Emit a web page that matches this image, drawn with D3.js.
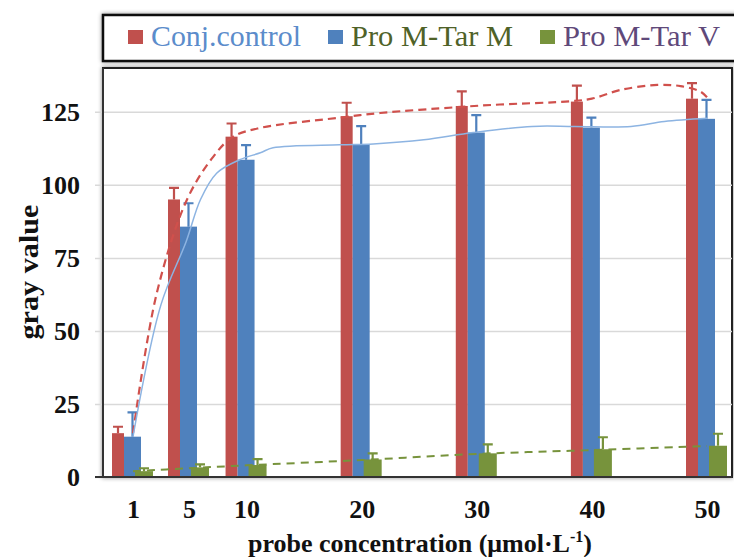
<!DOCTYPE html>
<html>
<head>
<meta charset="utf-8">
<script src="https://cdn.jsdelivr.net/npm/d3@7"></script>
<style>
    body { margin: 0; background: #fff; }
    svg { display: block; font-family: "Liberation Serif", "Times New Roman", serif; }
</style>
</head>
<body>
<svg id="chart" width="734" height="557"></svg>
<script>
// data
let concentrations = [1, 5, 10, 20, 30, 40, 50];
let seriesNames = ["Conj.control", "Pro M-Tar M", "Pro M-Tar V"];
let conjValues = [15, 95, 116.5, 123.5, 127, 128.5, 129.5];
let conjErrors = [2.2, 4, 4.5, 4.6, 5, 5.5, 5.3];
let tarMValues = [13.8, 85.7, 108.6, 113.8, 117.9, 119.6, 122.6];
let tarMErrors = [8.3, 8, 5, 6.3, 6, 3.4, 6.5];
let tarVValues = [2, 3.3, 4.1, 6, 8.1, 9.5, 10.7];
let tarVErrors = [1, 1, 2, 2.1, 3.1, 4.1, 4.1];

// trend curves, [concentration, gray value]
let conjTrend = [[1, 15], [2.7, 63], [4.86, 95], [7.1, 109.6], [8.8, 116.4], [11.2, 119.5], [18.1, 123],
    [21.6, 124.6], [28.3, 126.6], [32, 127.5], [38.1, 128.6], [40, 129.5], [42.5, 132.5], [45.7, 134.2],
    [47.7, 133.8], [49.4, 132], [50, 130]];
let tarMTrend = [[1, 13.8], [3, 59], [4.8, 80.6], [6, 95], [7.4, 104], [9.4, 108.6], [11.2, 111], [12.3, 112.7],
    [18.1, 113.7], [21, 114], [25.4, 115.4], [29.7, 117.9], [34.8, 120], [38.5, 120], [43.4, 120],
    [46.3, 121.7], [50, 122.8]];
let tarVTrend = [[1, 2], [5, 3], [10, 4], [20, 5.8], [30, 7.9], [40, 9.2], [50, 10.6]];

let yTicks = [0, 25, 50, 75, 100, 125];

let colours = ["#c0504d", "#4f81bd", "#77933c"];
let legendTextColours = ["#5b8ccb", "#4f6228", "#5f497a"];

let svg = d3.select("#chart");
let plotLeft = 103, plotRight = 732, plotTop = 68, plotBottom = 477;

// shadow for the boxes
let defs = svg.append("defs");
defs.append("filter").attr("id", "shadow")
    .attr("x", "-10%").attr("y", "-30%").attr("width", "120%").attr("height", "160%")
    .append("feDropShadow")
    .attr("dx", 0).attr("dy", 0).attr("stdDeviation", 2)
    .attr("flood-color", "#000").attr("flood-opacity", 0.45);

// scales: the x axis is stretched a little between 1 and 5
let x = d3.scaleLinear()
    .domain([1, 5, 50])
    .range([133, 189, 707]);
let y = d3.scaleLinear()
    .domain([0, 140])
    .range([plotBottom, plotTop]);

// legend box
svg.append("rect")
    .attr("x", 103).attr("y", 15).attr("width", 660).attr("height", 46)
    .attr("fill", "#fff").attr("stroke", "#111").attr("stroke-width", 2.5)
    .attr("filter", "url(#shadow)");
let legendX = [128, 328, 540];
let legendWidths = [150, 162, 157];
let legend = svg.selectAll(".legend")
    .data(seriesNames).enter()
    .append("g")
    .attr("class", "legend")
    .attr("transform", (d, i) => "translate(" + legendX[i] + ",30)");
legend.append("rect")
    .attr("width", 15).attr("height", 14)
    .attr("fill", (d, i) => colours[i]);
legend.append("text")
    .attr("x", 23).attr("y", 16)
    .attr("font-size", 30)
    .attr("textLength", (d, i) => legendWidths[i])
    .attr("lengthAdjust", "spacingAndGlyphs")
    .attr("fill", (d, i) => legendTextColours[i])
    .text(d => d);

// plot frame
svg.append("rect")
    .attr("x", plotLeft).attr("y", plotTop)
    .attr("width", plotRight - plotLeft).attr("height", plotBottom - plotTop)
    .attr("fill", "#fff").attr("stroke", "#222").attr("stroke-width", 2)
    .attr("filter", "url(#shadow)");

// grid lines and y axis
let axisY = d3.axisLeft(y)
    .tickValues(yTicks)
    .tickSize(-(plotRight - plotLeft) - 8)
    .tickFormat(d3.format("d"));
let gy = svg.append("g")
    .attr("transform", "translate(" + (plotLeft - 8) + ",0)")
    .call(axisY);
gy.select(".domain").remove();
gy.selectAll(".tick line").attr("stroke", "#d9d9d9").attr("stroke-width", 1.5);
gy.selectAll(".tick text")
    .attr("x", -15)
    .attr("font-family", "Liberation Serif")
    .attr("font-size", 26).attr("font-weight", "bold").attr("fill", "#111");

// bars
let groups = [
    {values: conjValues, errors: conjErrors, offset: -21, width: 12},
    {values: tarMValues, errors: tarMErrors, offset: -9, width: 17},
    {values: tarVValues, errors: tarVErrors, offset: 2, width: 18}
];

groups.forEach(function(g, i) {
    let rows = concentrations.map((c, j) => ({c: c, v: g.values[j], e: g.errors[j]}));
    let layer = svg.append("g");
    layer.selectAll("rect")
        .data(rows).enter()
        .append("rect")
        .attr("x", d => x(d.c) + g.offset)
        .attr("y", d => y(d.v))
        .attr("width", g.width)
        .attr("height", d => y(0) - y(d.v))
        .attr("fill", colours[i]);
    // upper error bars
    layer.selectAll(".err")
        .data(rows).enter()
        .append("path")
        .attr("class", "err")
        .attr("d", function(d) {
            let cx = x(d.c) + g.offset + g.width / 2;
            return "M" + cx + "," + y(d.v) + "V" + y(d.v + d.e) + "M" + (cx - 5) + "," + y(d.v + d.e) + "H" + (cx + 5);
        })
        .attr("stroke", colours[i]).attr("stroke-width", 2.2).attr("fill", "none");
});

// trend curves
let line = d3.line()
    .x(d => x(d[0]))
    .y(d => y(d[1]))
    .curve(d3.curveCatmullRom);

svg.append("path").datum(conjTrend)
    .attr("d", line).attr("fill", "none")
    .attr("stroke", "#d0504c").attr("stroke-width", 2.2).attr("stroke-dasharray", "8,5");
svg.append("path").datum(tarMTrend)
    .attr("d", line).attr("fill", "none")
    .attr("stroke", "#8db4e2").attr("stroke-width", 1.5);
svg.append("path").datum(tarVTrend)
    .attr("d", line).attr("fill", "none")
    .attr("stroke", "#77933c").attr("stroke-width", 2).attr("stroke-dasharray", "8,6");

// left and bottom axis lines
svg.append("line")
    .attr("x1", plotLeft).attr("x2", plotLeft).attr("y1", plotTop).attr("y2", plotBottom)
    .attr("stroke", "#333").attr("stroke-width", 2);
let axisX = d3.axisBottom(x)
    .tickValues(concentrations)
    .tickSize(0)
    .tickPadding(23)
    .tickFormat(d3.format("d"));
let gx = svg.append("g")
    .attr("transform", "translate(0," + plotBottom + ")")
    .call(axisX);
gx.select(".domain").remove();
gx.selectAll(".tick text")
    .attr("font-family", "Liberation Serif")
    .attr("font-size", 26).attr("font-weight", "bold").attr("fill", "#111");
svg.append("line")
    .attr("x1", plotLeft - 8).attr("x2", plotRight).attr("y1", plotBottom).attr("y2", plotBottom)
    .attr("stroke", "#333").attr("stroke-width", 2);

// axis titles
svg.append("text")
    .attr("transform", "translate(38,272) rotate(-90)")
    .attr("text-anchor", "middle")
    .attr("font-size", 28).attr("font-weight", "bold").attr("fill", "#111")
    .attr("textLength", 135).attr("lengthAdjust", "spacingAndGlyphs")
    .text("gray value");
let xTitle = svg.append("text")
    .attr("x", 420).attr("y", 552)
    .attr("text-anchor", "middle")
    .attr("font-size", 26).attr("font-weight", "bold").attr("fill", "#111")
    .text("probe concentration (μmol·L");
xTitle.append("tspan").attr("dy", -10).attr("font-size", 16).text("-1");
xTitle.append("tspan").attr("dy", 10).text(")");
</script>
</body>
</html>
